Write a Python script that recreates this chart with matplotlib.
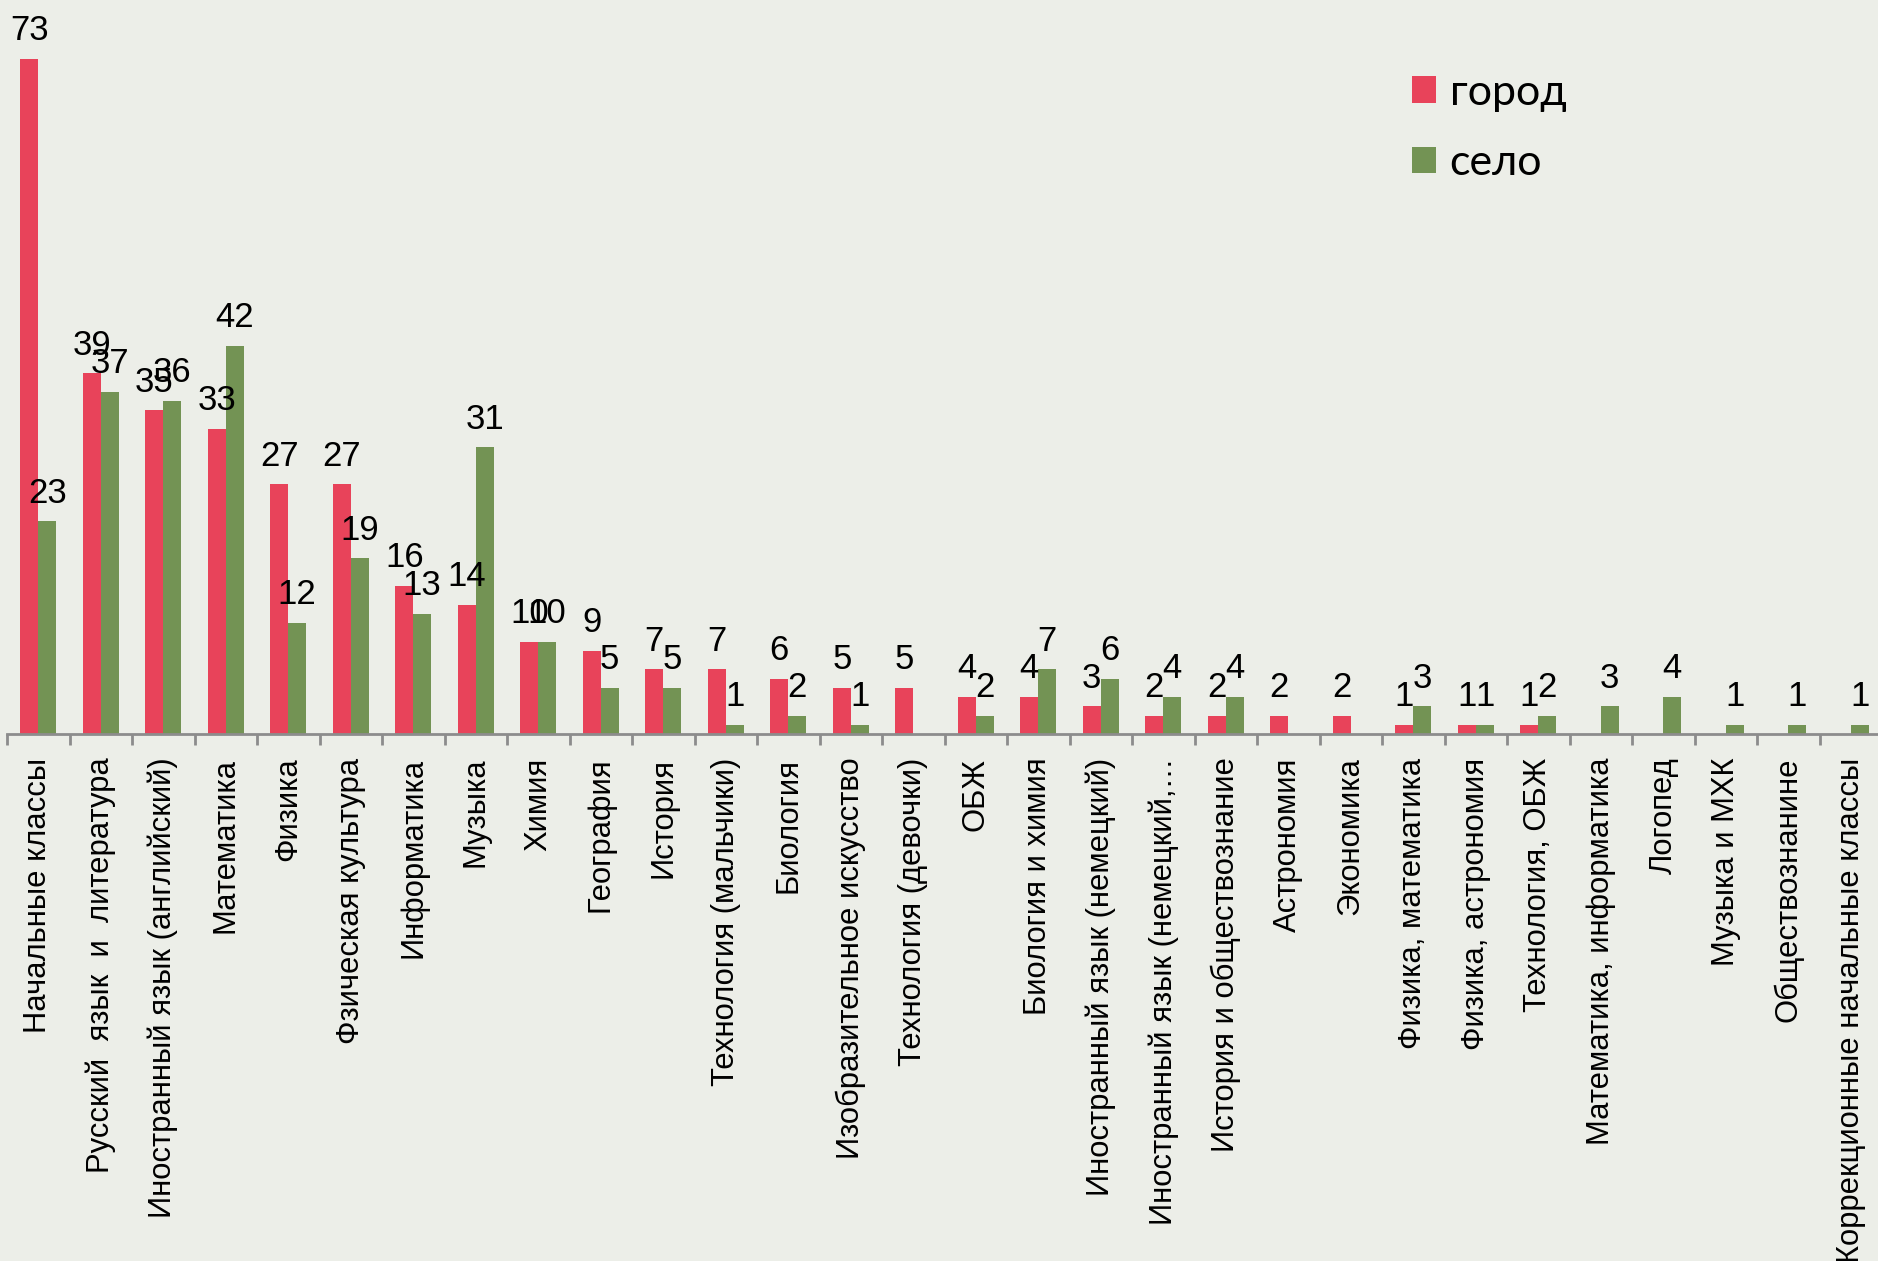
import matplotlib
matplotlib.use("Agg")
import matplotlib.pyplot as plt
import numpy as np
from matplotlib.patches import Patch

categories = [
    "Начальные классы",
    "Русский  язык  и  литература",
    "Иностранный язык (английский)",
    "Математика",
    "Физика",
    "Фзическая культура",
    "Информатика",
    "Музыка",
    "Химия",
    "География",
    "История",
    "Технология (мальчики)",
    "Биология",
    "Изобразительное искусство",
    "Технология (девочки)",
    "ОБЖ",
    "Биология и химия",
    "Иностранный язык (немецкий)",
    "Иностранный язык (немецкий,…",
    "История и обществознание",
    "Астрономия",
    "Экономика",
    "Физика, математика",
    "Физика, астрономия",
    "Технология, ОБЖ",
    "Математика, информатика",
    "Логопед",
    "Музыка и МХК",
    "Обществознанине",
    "Коррекционные начальные классы",
]
gorod = [73, 39, 35, 33, 27, 27, 16, 14, 10, 9, 7, 7, 6, 5, 5,
         4, 4, 3, 2, 2, 2, 2, 1, 1, 1, 0, 0, 0, 0, 0]
selo = [23, 37, 36, 42, 12, 19, 13, 31, 10, 5, 5, 1, 2, 1, 0,
        2, 7, 6, 4, 4, 0, 0, 3, 1, 2, 3, 4, 1, 1, 1]
series_names = ["город", "село"]

RED = "#E8435A"
GREEN = "#739354"
BG = "#ECEEE8"

fig = plt.figure(figsize=(18.78, 12.61), dpi=100, facecolor=BG)
ax = fig.add_axes([7 / 1878, (1261 - 734) / 1261, 1875 / 1878, 734 / 1261])
ax.set_facecolor(BG)

x = np.arange(len(categories))
w = 0.285
for vals, off, color in [(gorod, -w / 2, RED), (selo, w / 2, GREEN)]:
    bars = ax.bar(x + off, vals, width=w, color=color, linewidth=0)
    for b, v in zip(bars, vals):
        if v == 0:
            continue
        ax.annotate(str(v), (b.get_x() + b.get_width() / 2, v),
                    xytext=(0, 13.5), textcoords="offset points",
                    ha="center", va="baseline",
                    family="Liberation Sans", fontsize=25)

ax.set_xlim(-0.5, len(categories) - 0.5)
ax.set_ylim(0, 73 * 734 / 675)

for s in ["top", "right", "left"]:
    ax.spines[s].set_visible(False)
ax.spines["bottom"].set_color("#8C8C8C")
ax.spines["bottom"].set_linewidth(2)
ax.set_yticks([])

ax.set_xticks(x)
ax.set_xticklabels(categories, rotation=90, ha="center", va="top",
                   family="Liberation Sans", fontsize=22.3)
ax.tick_params(axis="x", which="major", length=0, pad=17)
ax.set_xticks(np.arange(len(categories) + 1) - 0.5, minor=True)
ax.tick_params(axis="x", which="minor", length=8, width=2, color="#8C8C8C")

handles = [Patch(facecolor=RED), Patch(facecolor=GREEN)]
fig.legend(handles, series_names, loc="upper left",
           bbox_to_anchor=(1373 / 1878, 1 - 35 / 1261),
           frameon=False, prop={"family": "Lato", "size": 31},
           handlelength=0.56, handleheight=0.56, handletextpad=0.32,
           labelspacing=0.75)

fig.savefig("out.png", dpi=100, facecolor=BG)
